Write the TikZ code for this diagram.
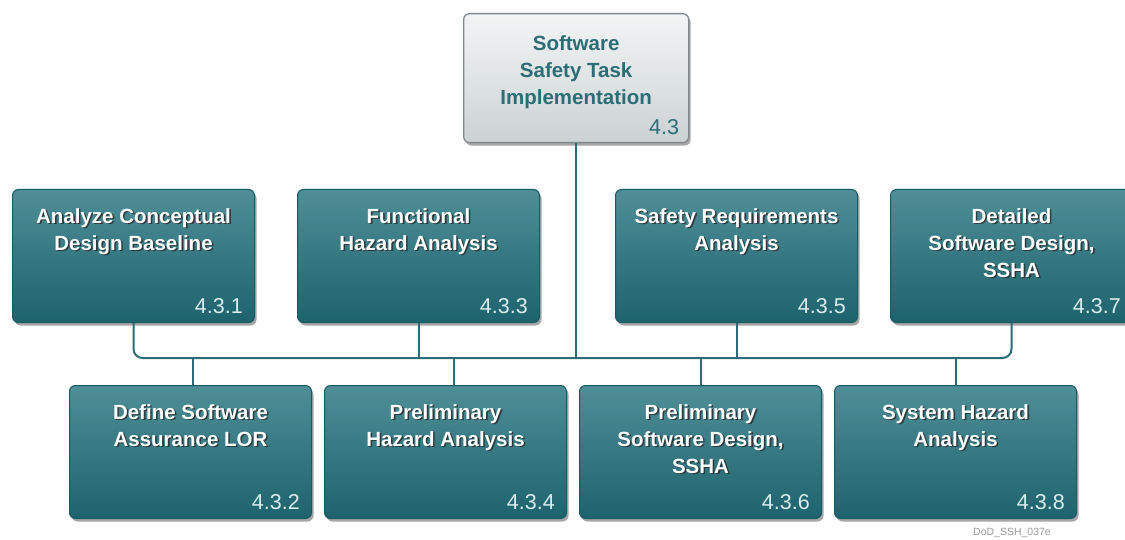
\documentclass[tikz,border=0pt]{standalone}
\usepackage{fontspec}
\setmainfont{Liberation Sans}
\usetikzlibrary{shadows}
\definecolor{tealtop}{HTML}{4F8E97}
\definecolor{tealbot}{HTML}{1D636D}
\definecolor{tealedge}{HTML}{1A5A63}
\definecolor{linecol}{HTML}{2B6C76}
\definecolor{greytop}{HTML}{F3F5F5}
\definecolor{greybot}{HTML}{CBD2D4}
\definecolor{greyedge}{HTML}{7F8A8D}
\definecolor{numcol}{HTML}{D9ECEE}
\definecolor{toptext}{HTML}{2C6D76}
\definecolor{wmcol}{HTML}{9A9A9A}
\tikzset{
  boxshadow/.style={drop shadow={shadow xshift=2pt, shadow yshift=-3pt, opacity=0.35, fill=black}},
  taskbox/.style={draw=tealedge, line width=1pt, rounded corners=6pt,
    top color=tealtop, bottom color=tealbot,
    minimum width=242pt, minimum height=133pt, anchor=north west, inner sep=0pt, boxshadow},
  rootbox/.style={draw=greyedge, line width=1.3pt, rounded corners=6pt,
    top color=greytop, bottom color=greybot,
    minimum width=225pt, minimum height=129pt, anchor=north west, inner sep=0pt, boxshadow},
  titletext/.style={font=\fontsize{20.5}{27}\selectfont\bfseries, align=center,
    text=white, inner sep=0pt, anchor=north},
  titleshadow/.style={titletext, text=black!85, text opacity=0.75},
  roottext/.style={titletext, text=toptext},
  numtext/.style={font=\fontsize{21.5}{26}\selectfont, text=numcol, inner sep=0pt, anchor=base east},
  rootnum/.style={numtext, text=toptext},
  link/.style={draw=linecol, line width=2pt, rounded corners=9pt},
}
% name, x, y, title, number
\newcommand\mkbox[5]{%
  \node[taskbox] (#1) at (#2,#3) {};
  \node[titleshadow] (#1s) at ([xshift=1.6pt,yshift=-20.6pt]#1.north) {#4};
  \node[titletext] (#1t) at ([yshift=-19pt]#1.north) {#4};
  \node[numtext] (#1n) at ([xshift=-12pt,yshift=10pt]#1.south east) {#5};
}
\begin{document}
\begin{tikzpicture}[x=1pt,y=-1pt]
\fill[white] (0,0) rectangle (1125,540);
\useasboundingbox (0,0) rectangle (1125,540);

% root
\node[rootbox] (root) at (463,13) {};
\node[roottext] (roott) at ([yshift=-22pt]root.north) {Software\\Safety Task\\Implementation};
\node[rootnum] (rootn) at ([xshift=-10pt,yshift=9pt]root.south east) {4.3};

% first row
\mkbox{b1}{12}{189}{Analyze Conceptual\\Design Baseline}{4.3.1}
\mkbox{b3}{297}{189}{Functional\\Hazard Analysis}{4.3.3}
\mkbox{b5}{615}{189}{Safety Requirements\\Analysis}{4.3.5}
\mkbox{b7}{890}{189}{Detailed\\Software Design,\\SSHA}{4.3.7}

% second row
\mkbox{b2}{69}{385}{Define Software\\Assurance LOR}{4.3.2}
\mkbox{b4}{324}{385}{Preliminary\\Hazard Analysis}{4.3.4}
\mkbox{b6}{579}{385}{Preliminary\\Software Design,\\SSHA}{4.3.6}
\mkbox{b8}{834}{385}{System Hazard\\Analysis}{4.3.8}

% connectors
\coordinate (hub) at (575,358);
\draw[link] (b1.south) |- (hub) -| (b7.south);
\draw[link] (root.south) -- (root.south |- hub);
\draw[link] (b3.south) -- (b3.south |- hub);
\draw[link] (b5.south) -- (b5.south |- hub);
\draw[link] ([xshift=2pt]b2.north) -- ([xshift=2pt]b2.north |- hub);
\draw[link] ([xshift=8pt]b4.north) -- ([xshift=8pt]b4.north |- hub);
\draw[link] (b6.north) -- (b6.north |- hub);
\draw[link] (b8.north) -- (b8.north |- hub);

% watermark
\node[font=\fontsize{10.5}{12}\selectfont, text=wmcol, inner sep=0pt] (wm) at (1012,533) {DoD\_SSH\_037e};
\end{tikzpicture}
\end{document}
